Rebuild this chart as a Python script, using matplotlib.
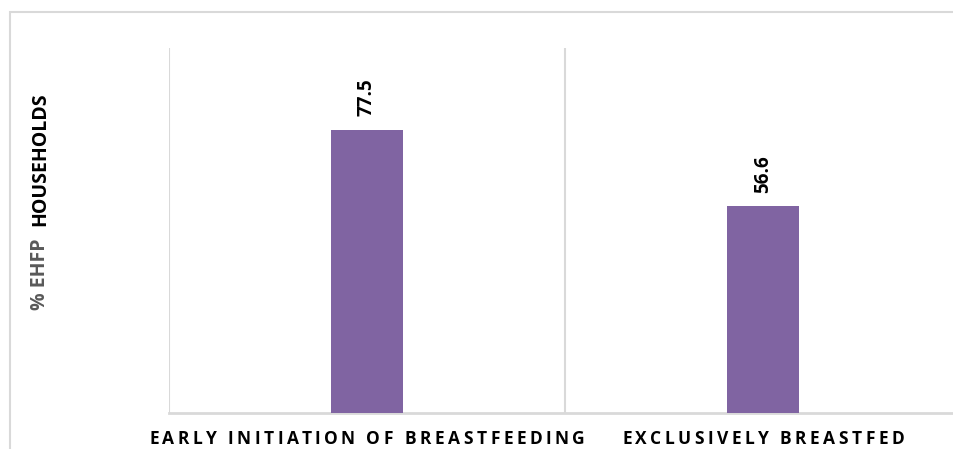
import matplotlib
matplotlib.use('Agg')
import matplotlib.pyplot as plt
from matplotlib.patches import Rectangle
from matplotlib.font_manager import FontProperties

categories = ['EARLY INITIATION OF BREASTFEEDING', 'EXCLUSIVELY BREASTFED']
values = [77.5, 56.6]

W, H, DPI = 954, 449, 100
plt.rcParams['font.family'] = ['Open Sans', 'DejaVu Sans']

BAR = '#8064a2'
GRID = '#d9d9d9'

fig = plt.figure(figsize=(W / DPI, H / DPI), dpi=DPI)

# outer chart frame (runs off the right and bottom edges)
fig.patches.append(Rectangle((10 / W, -0.1), 1.2, 1.1 - 12 / H,
                             transform=fig.transFigure, fill=False,
                             edgecolor=GRID, lw=1.5))

ax = fig.add_axes([169 / W, (H - 413) / H, (961 - 169) / W, (413 - 48) / H])
ax.set_xlim(-0.5, len(categories) - 0.5)
ax.set_ylim(0, 100)

ax.bar(range(len(values)), values, width=0.18, color=BAR, zorder=3)

# category separators
for x in [i - 0.5 for i in range(len(categories) + 1)]:
    ax.axvline(x, color=GRID, lw=1.5, zorder=1)

for s in ['top', 'left', 'right']:
    ax.spines[s].set_visible(False)
ax.spines['bottom'].set_color(GRID)
ax.spines['bottom'].set_linewidth(2)
ax.set_xticks([])
ax.set_yticks([])

for i, v in enumerate(values):
    ax.annotate(f'{v}', (i, v), xytext=(0, 10), textcoords='offset points',
                rotation=90, ha='center', va='bottom', fontsize=13.5,
                fontweight='bold', color='black')

# y axis title in two tones
fig.text(40 / W, (H - 310) / H, '% EHFP', rotation=90, ha='center', va='bottom',
         fontsize=14, fontweight='bold', color='#595959')
fig.text(40 / W, (H - 92) / H, 'HOUSEHOLDS', rotation=90, ha='center', va='top',
         fontsize=14, fontweight='bold', color='black')

# letter-spaced category labels
renderer = fig.canvas.get_renderer()
prop = FontProperties(family='Open Sans', weight='bold', size=12.5)


def text_width(s):
    w, _, _ = renderer.get_text_width_height_descent(s + '|', prop, ismath=False)
    w0, _, _ = renderer.get_text_width_height_descent('|', prop, ismath=False)
    return w - w0


def tracked_label(s, cx, cy, tracking):
    offsets = [text_width(s[:i]) + i * tracking for i in range(len(s))]
    total = offsets[-1] + text_width(s[-1])
    x0 = cx - total / 2
    for ch, dx in zip(s, offsets):
        if ch == ' ':
            continue
        fig.text((x0 + dx) / W, cy / H, ch, fontproperties=prop,
                 ha='left', va='center', color='black')


for i, cat in enumerate(categories):
    cx = ax.transData.transform((i, 0))[0]
    tracked_label(cat, cx, H - 439, 3.5)

fig.savefig('out.png', dpi=DPI)
